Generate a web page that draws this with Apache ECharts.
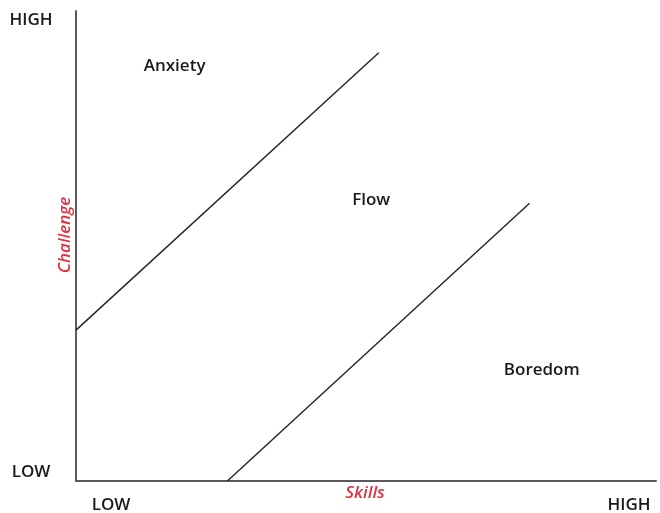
<!DOCTYPE html>
<html><head><meta charset="utf-8">
<script src="https://cdn.jsdelivr.net/npm/echarts@6/dist/echarts.min.js"></script>
<style>html,body{margin:0;padding:0;background:#fff}#c{width:660px;height:513px}</style>
</head><body><div id="c"></div>
<script>
// Boundary lines (x = skills 0..100, y = challenge 0..100)
const anxietyBoundary = [[0, 32.1], [52.2, 91.1]];
const boredomBoundary = [[26.1, 0], [78.2, 59.1]];
// Region labels
const regionNames = ['Anxiety', 'Flow', 'Boredom'];
const regionPos = [[17.0, 88.3], [50.9, 59.8], [80.3, 23.6]];
// Axis texts
const yTickLabels = ['LOW', 'HIGH'];
const xTickLabels = ['LOW', 'HIGH'];
const xTitle = 'Skills';
const yTitle = 'Challenge';

const chart = echarts.init(document.getElementById('c'), null, {renderer: 'canvas'});
const font = '"Open Sans", "Noto Sans", sans-serif';
const txt = '#1a1a1a';
const red = '#e0313f';
const fs = 17;
function t(x, y, s, color, italic, rot) {
  return {type: 'text', x: x, y: y, rotation: rot || 0,
    style: {text: s, fill: color, font: (italic ? 'italic ' : '') + '600 ' + fs + 'px ' + font,
      textAlign: 'center', textVerticalAlign: 'middle'}};
}
chart.setOption({
  animation: false,
  grid: {left: 76, right: 4, top: 11, bottom: 32},
  xAxis: {type: 'value', min: 0, max: 100, axisLine: {show: true, lineStyle: {color: '#5a5a5a', width: 2}},
    axisTick: {show: false}, axisLabel: {show: false}, splitLine: {show: false}},
  yAxis: {type: 'value', min: 0, max: 100, axisLine: {show: true, lineStyle: {color: '#5a5a5a', width: 2}},
    axisTick: {show: false}, axisLabel: {show: false}, splitLine: {show: false}},
  series: [
    {type: 'line', data: anxietyBoundary, symbol: 'none', lineStyle: {color: '#222', width: 1.4}},
    {type: 'line', data: boredomBoundary, symbol: 'none', lineStyle: {color: '#222', width: 1.4}},
    {type: 'scatter', symbol: 'circle', symbolSize: 1, itemStyle: {color: 'rgba(0,0,0,0)', opacity: 1},
      data: regionPos.map((p, i) => ({value: p, name: regionNames[i]})),
      label: {show: true, position: 'inside', formatter: '{b}', color: txt, opacity: 1,
        textBorderWidth: 0, fontSize: fs, fontWeight: 600, fontFamily: font}}
  ],
  graphic: [
    t(31, 20, yTickLabels[1], txt),
    t(31, 472, yTickLabels[0], txt),
    t(111, 505, xTickLabels[0], txt),
    t(629, 505, xTickLabels[1], txt),
    t(365, 493, xTitle, red, true),
    t(65, 235, yTitle, red, true, Math.PI / 2)
  ]
});
</script></body></html>
